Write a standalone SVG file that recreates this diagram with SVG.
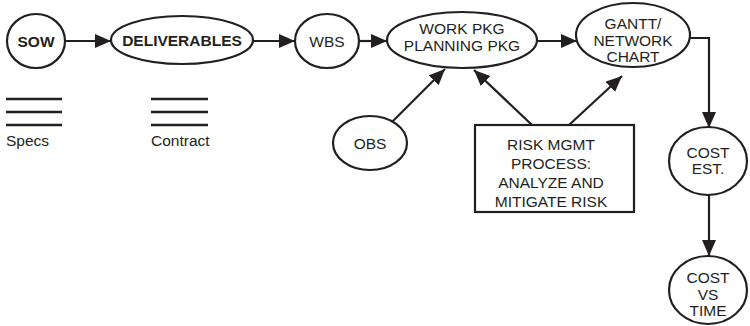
<svg xmlns="http://www.w3.org/2000/svg" width="750" height="326" viewBox="0 0 750 326">
<style>
.n{fill:#fff;stroke:#231f20;stroke-width:2.2}
.t{font-family:"Liberation Sans",Arial,sans-serif;font-size:15.5px;fill:#231f20;text-anchor:middle}
.b{font-weight:bold}
.l{font-family:"Liberation Sans",Arial,sans-serif;font-size:15.5px;fill:#231f20}
.c{fill:none;stroke:#231f20;stroke-width:2.2}
.r{stroke:#231f20;stroke-width:2.4}
</style>
<defs>
<marker id="a" markerUnits="userSpaceOnUse" markerWidth="18" markerHeight="16" refX="16" refY="7" orient="auto">
<path d="M0,0 L16,7 L0,14 Z" fill="#231f20"/>
</marker>
</defs>
<g id="connectors">
<line class="c" x1="66" y1="41" x2="111" y2="41" marker-end="url(#a)"/>
<line class="c" x1="253" y1="41" x2="295" y2="41" marker-end="url(#a)"/>
<line class="c" x1="359" y1="41" x2="387" y2="41" marker-end="url(#a)"/>
<line class="c" x1="537" y1="41" x2="577" y2="41" marker-end="url(#a)"/>
<polyline class="c" points="690,38 709,38 709,128" marker-end="url(#a)"/>
<line class="c" x1="709" y1="195" x2="709" y2="256" marker-end="url(#a)"/>
<line class="c" x1="392" y1="122" x2="445" y2="69" marker-end="url(#a)"/>
<line class="c" x1="532" y1="125" x2="474" y2="70" marker-end="url(#a)"/>
<line class="c" x1="569" y1="125" x2="622" y2="76" marker-end="url(#a)"/>
</g>
<g id="sow"><ellipse class="n" cx="36" cy="41" rx="29" ry="27"/><text class="t b" x="36" y="47">SOW</text></g>
<g id="deliverables"><ellipse class="n" cx="182" cy="40" rx="71" ry="24"/><text class="t b" x="182" y="46">DELIVERABLES</text></g>
<g id="wbs"><ellipse class="n" cx="327" cy="41" rx="32" ry="27"/><text class="t" x="327" y="47">WBS</text></g>
<g id="workpkg"><ellipse class="n" cx="462" cy="40" rx="75" ry="28"/><text class="t" x="462" y="34">WORK PKG</text><text class="t" x="462" y="51">PLANNING PKG</text></g>
<g id="gantt"><ellipse class="n" cx="633" cy="35" rx="57" ry="32"/><text class="t" x="633" y="29">GANTT/</text><text class="t" x="633" y="46">NETWORK</text><text class="t" x="633" y="62">CHART</text></g>
<g id="costest"><ellipse class="n" cx="708" cy="161" rx="39" ry="34"/><text class="t" x="708" y="158">COST</text><text class="t" x="708" y="174">EST.</text></g>
<g id="costvstime"><ellipse class="n" cx="708" cy="290" rx="39" ry="34"/><text class="t" x="708" y="283">COST</text><text class="t" x="708" y="300">VS</text><text class="t" x="708" y="316">TIME</text></g>
<g id="obs"><ellipse class="n" cx="370" cy="143" rx="37" ry="27"/><text class="t" x="370" y="149">OBS</text></g>
<g id="risk"><rect class="n" x="475" y="125" width="159" height="87"/><text class="t" x="551" y="150">RISK MGMT</text><text class="t" x="551" y="169">PROCESS:</text><text class="t" x="551" y="188">ANALYZE AND</text><text class="t" x="551" y="207">MITIGATE RISK</text></g>
<g id="specs"><line class="r" x1="6" y1="99" x2="62" y2="99"/><line class="r" x1="6" y1="112" x2="62" y2="112"/><line class="r" x1="6" y1="125" x2="62" y2="125"/><text class="l" x="6" y="146">Specs</text></g>
<g id="contract"><line class="r" x1="151" y1="99" x2="208" y2="99"/><line class="r" x1="151" y1="112" x2="208" y2="112"/><line class="r" x1="151" y1="125" x2="208" y2="125"/><text class="l" x="151" y="146">Contract</text></g>
</svg>
